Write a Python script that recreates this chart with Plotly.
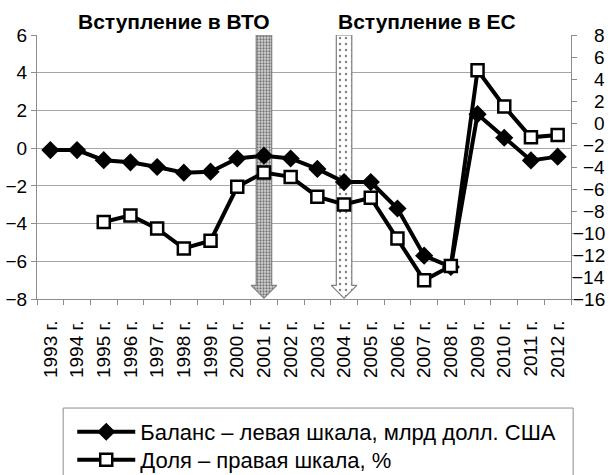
import plotly.graph_objects as go

years = list(range(1993, 2013))
labels = [f"{y} г." for y in years]
balance = [-0.1, -0.1, -0.64, -0.75, -1.0, -1.3, -1.25, -0.55, -0.4, -0.55,
           -1.1, -1.8, -1.8, -3.2, -5.7, -6.3, 1.8, 0.55, -0.65, -0.45]
share = [None, None, -9.0, -8.4, -9.6, -11.4, -10.7, -5.8, -4.5, -4.9,
         -6.7, -7.4, -6.8, -10.5, -14.3, -13.0, 4.8, 1.5, -1.3, -1.1]
left_ticks = [6, 4, 2, 0, -2, -4, -6, -8]
right_ticks = [8, 6, 4, 2, 0, -2, -4, -6, -8, -10, -12, -14, -16]
events = [("Вступление в ВТО", 2001), ("Вступление в ЕС", 2004)]

idx = list(range(len(years)))
GRID = "#a6a6a6"
AX = "#8c8c8c"
FONT = "Liberation Sans, Arial, sans-serif"

fig = go.Figure()

# event arrows
y_top, y_bot = left_ticks[0], left_ticks[-1]
sw, hw, hh = 0.29, 0.48, 0.72
patterns = [
    dict(shape=".", fgcolor="#111111", bgcolor="#d6d6d6", size=3, solidity=0.45),
    dict(shape=".", fgcolor="#000000", bgcolor="#ffffff", size=6, solidity=0.12),
]
for (name, yr), pat in zip(events, patterns):
    c = years.index(yr)
    xs = [c - sw, c + sw, c + sw, c + hw, c, c - hw, c - sw, c - sw]
    ys = [y_top, y_top, y_bot + hh, y_bot + hh, y_bot + 0.05, y_bot + hh, y_bot + hh, y_top]
    fig.add_trace(go.Scatter(x=xs, y=ys, mode="lines", fill="toself",
                             fillpattern=pat, fillcolor="#ffffff",
                             line=dict(color="#7f7f7f", width=1.2),
                             showlegend=False, hoverinfo="skip"))

fig.add_trace(go.Scatter(
    x=idx, y=balance, mode="lines+markers",
    name="Баланс – левая шкала, млрд долл. США", legend="legend",
    line=dict(color="black", width=4),
    marker=dict(symbol="diamond", size=14, color="black"),
))
fig.add_trace(go.Scatter(
    x=idx, y=share, mode="lines+markers", yaxis="y2",
    name="Доля – правая шкала, %", legend="legend2",
    line=dict(color="black", width=4),
    marker=dict(symbol="square", size=12, color="white",
                line=dict(color="black", width=2.5)),
))

annotations = []
for v in right_ticks:
    annotations.append(dict(x=1.068, xref="paper", y=v, yref="y2",
                            text=str(v).replace("-", "\u2212"),
                            xanchor="right", yanchor="middle", showarrow=False,
                            font=dict(size=19, color="black", family=FONT)))
for (name, yr), anchor in zip(events, ["right", "left"]):
    c = years.index(yr)
    annotations.append(dict(x=c + sw if anchor == "right" else c - sw, xref="x",
                            y=1.05, yref="paper", text=f"<b>{name}</b>",
                            xanchor=anchor, yanchor="middle", showarrow=False,
                            font=dict(size=21, color="black", family=FONT)))

leg_common = dict(xanchor="left", yanchor="top", borderwidth=0,
                  bgcolor="rgba(0,0,0,0)", itemwidth=58, font=dict(size=22))

fig.update_layout(
    width=610, height=475,
    margin=dict(l=37, r=39, t=35, b=176, autoexpand=False),
    paper_bgcolor="white", plot_bgcolor="white",
    font=dict(family=FONT, color="black"),
    xaxis=dict(range=[-0.5, len(years) - 0.5], tickmode="array", tickvals=idx,
               ticktext=labels, tickangle=-90, ticks="", showgrid=False,
               showline=True, linecolor=AX, zeroline=False,
               tickfont=dict(size=19), ticklabelstandoff=13,
               minor=dict(tickmode="array",
                          tickvals=[i - 0.5 for i in range(len(years) + 1)],
                          ticks="outside", ticklen=5, tickcolor=AX,
                          showgrid=False)),
    yaxis=dict(range=[left_ticks[-1], left_ticks[0]], tickmode="array",
               tickvals=left_ticks, gridcolor=GRID, showline=True,
               linecolor=AX, ticks="outside", ticklen=5, tickcolor=AX,
               zeroline=False, tickfont=dict(size=19)),
    yaxis2=dict(overlaying="y", side="right",
                range=[right_ticks[-1], right_ticks[0]], tickmode="array",
                tickvals=right_ticks, showgrid=False, showline=True,
                linecolor=AX, ticks="outside", ticklen=5, tickcolor=AX,
                showticklabels=False, zeroline=False),
    legend=dict(x=0.066, y=-0.424, **leg_common),
    legend2=dict(x=0.066, y=-0.530, **leg_common),
    shapes=[dict(type="rect", xref="paper", yref="paper",
                 x0=0.049, x1=1.004, y0=-0.413, y1=-0.75,
                 line=dict(color=AX, width=1), fillcolor="rgba(0,0,0,0)",
                 layer="below")],
    annotations=annotations,
    showlegend=True,
)

fig.write_html("out.html", config={"displayModeBar": False},
               post_script="document.body.style.margin='0px';")
